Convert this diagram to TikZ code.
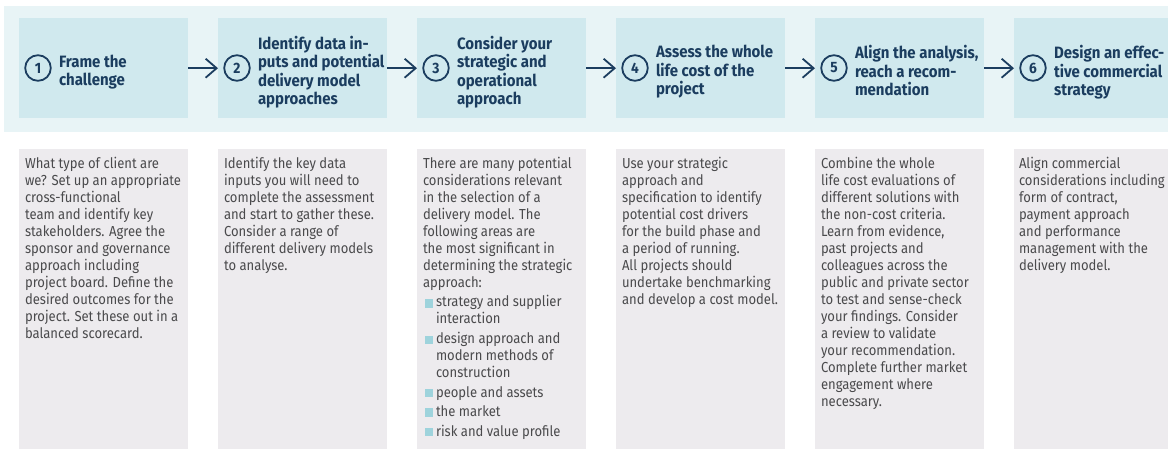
\documentclass[tikz,border=0pt]{standalone}
\usepackage{fontspec}
\newfontfamily\bodyfam{Fira Sans}[FakeStretch=0.9]
\newfontfamily\headfam{Fira Sans}[FakeStretch=0.915]
\usetikzlibrary{arrows.meta}
\definecolor{bandc}{HTML}{E8F4F6}
\definecolor{headc}{HTML}{D0E9EE}
\definecolor{navy}{HTML}{1B3D5F}
\definecolor{bodyc}{HTML}{EDEBEE}
\definecolor{textc}{HTML}{4A4A4C}
\definecolor{bulc}{HTML}{9ED3DC}
\begin{document}
\begin{tikzpicture}[x=1pt,y=-1pt,
  hbox/.style={fill=headc,draw=none,anchor=north west,inner sep=0pt,minimum width=169pt,minimum height=100pt},
  bbox/.style={fill=bodyc,draw=none,anchor=north west,inner sep=0pt,minimum width=169pt,minimum height=300pt},
  numc/.style={circle,draw=navy,line width=1.8pt,minimum size=25.6pt,inner sep=0pt,text=navy,font=\headfam\bfseries\fontsize{15}{16}\selectfont},
  ttl/.style={anchor=north west,inner sep=0pt,outer sep=0pt,align=left,text=navy,font=\headfam\bfseries\fontsize{16.4}{18.25}\selectfont,execute at begin node={\rule{0pt}{12.8pt}}},
  btxt/.style={anchor=north west,inner sep=0pt,outer sep=0pt,align=left,text=textc,font=\bodyfam\fontsize{14.5}{17}\selectfont,execute at begin node={\rule{0pt}{11.9pt}}},
  bul/.style={fill=bulc,draw=none,inner sep=0pt,minimum size=8.3pt},
  arr/.style={draw=navy,line width=1.8pt,-{Straight Barb[length=11pt,width=19pt]}}
]
\useasboundingbox (0,0) rectangle (1168,448);
\clip (0,0) rectangle (1168,448);
\fill[bandc] (4,6) rectangle (1200,132);
\foreach \i in {1,...,6}{
  \node[hbox] (h\i) at ({19+199*(\i-1)},18) {};
  \node[bbox] (b\i) at ({19+199*(\i-1)},149) {};
  \node[numc] (c\i) at ({38+199*(\i-1)},68) {\i};
}
\foreach \i/\j in {1/2,2/3,3/4,4/5,5/6}{
  \draw[arr] (h\i.east) -- (h\j.west);
}
% titles
\node[ttl] (t1) at (59,54.6) {Frame the\\challenge};
\node[ttl] (t2) at (258,36.3) {Identify data in-\\puts and potential\\delivery model\\approaches};
\node[ttl] (t3) at (457,36.3) {Consider your\\strategic and\\operational\\approach};
\node[ttl] (t4) at (656,45.45) {Assess the whole\\life cost of the\\project};
\node[ttl] (t5) at (855,45.45) {Align the analysis,\\reach a recom-\\mendation};
\node[ttl] (t6) at (1054,45.45) {Design an effec-\\tive commercial\\strategy};
% body texts
\node[btxt] (x1) at (25,157.4) {What type of client are\\we? Set up an appropriate\\cross-functional\\team and identify key\\stakeholders. Agree the\\sponsor and governance\\approach including\\project board. Define the\\desired outcomes for the\\project. Set these out in a\\balanced scorecard.};
\node[btxt] (x2) at (224,157.4) {Identify the key data\\inputs you will need to\\complete the assessment\\and start to gather these.\\Consider a range of\\different delivery models\\to analyse.};
\node[btxt] (x3) at (423,157.4) {There are many potential\\considerations relevant\\in the selection of a\\delivery model. The\\following areas are\\the most significant in\\determining the strategic\\approach:};
\node[btxt] (x4) at (622,157.4) {Use your strategic\\approach and\\specification to identify\\potential cost drivers\\for the build phase and\\a period of running.\\All projects should\\undertake benchmarking\\and develop a cost model.};
\node[btxt] (x5) at (821,157.4) {Combine the whole\\life cost evaluations of\\different solutions with\\the non-cost criteria.\\Learn from evidence,\\past projects and\\colleagues across the\\public and private sector\\to test and sense-check\\your findings. Consider\\a review to validate\\your recommendation.\\Complete further market\\engagement where\\necessary.};
\node[btxt] (x6) at (1019,157.4) {Align commercial\\considerations including\\form of contract,\\payment approach\\and performance\\management with the\\delivery model.};
% bullets
\node[bul] (q1) at (429,303.5) {};
\node[btxt] (p1) at (436,295.6) {strategy and supplier\\interaction};
\node[bul] (q2) at (429,340) {};
\node[btxt] (p2) at (436,332.1) {design approach and\\modern methods of\\construction};
\node[bul] (q3) at (429,393) {};
\node[btxt] (p3) at (436,385.1) {people and assets};
\node[bul] (q4) at (429,412.5) {};
\node[btxt] (p4) at (436,404.6) {the market};
\node[bul] (q5) at (429,432) {};
\node[btxt] (p5) at (436,424.1) {risk and value profile};
\end{tikzpicture}
\end{document}
